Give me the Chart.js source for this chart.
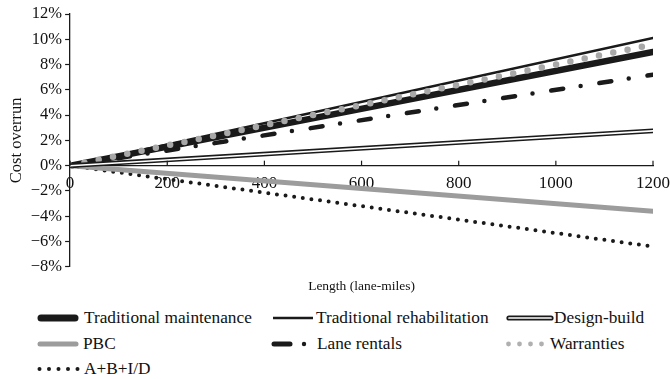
<!DOCTYPE html>
<html>
<head>
<meta charset="utf-8">
<script src="https://cdn.jsdelivr.net/npm/chart.js@4.4.1/dist/chart.umd.min.js"></script>
<style>
  html, body { margin: 0; padding: 0; background: #fff; }
  #wrap { position: relative; width: 670px; height: 379px; overflow: hidden; font-family: "Liberation Serif", "Times New Roman", serif; }
  #c { position: absolute; left: 0; top: 0; }
  .lg { position: absolute; font-size: 17.3px; color: #111; line-height: 20px; white-space: nowrap; }
  .sw { position: absolute; }
</style>
</head>
<body>
<div id="wrap">
  <canvas id="c" width="670" height="300"></canvas>
  <div id="legend"></div>
</div>
<script>
// ---- Data ----
const lengths = [0, 1200];                 // lane-miles
const tradMaintenance = [0, 9.0];          // % cost overrun
const tradRehab = [0, 10.1];
const designBuild = [0, 2.75];
const pbc = [0, -3.6];
const laneRentals = [0, 7.2];
const warranties = [0, 9.6];
const abid = [0, -6.4];
const seriesNames = ["Traditional maintenance", "Traditional rehabilitation", "Design-build",
                     "PBC", "Lane rentals", "Warranties", "A+B+I/D"];
const yMin = -8, yMax = 12, yStep = 2;
const xMin = 0, xMax = 1200, xStep = 200;

const pts = arr => lengths.map((x, i) => ({ x: x, y: arr[i] }));
const BLACK = '#1a1a1a';
const GRAY = '#9c9c9c';

const base = { pointRadius: 0, pointHoverRadius: 0, tension: 0, fill: false, borderCapStyle: 'round', borderJoinStyle: 'round' };

const datasets = [
  Object.assign({}, base, { label: seriesNames[0], data: pts(tradMaintenance), borderColor: BLACK, borderWidth: 6.5, order: 5 }),
  Object.assign({}, base, { label: seriesNames[1], data: pts(tradRehab), borderColor: BLACK, borderWidth: 2.5, order: 5 }),
  Object.assign({}, base, { label: seriesNames[2], data: pts(designBuild), borderColor: BLACK, borderWidth: 4.8, order: 2 }),
  Object.assign({}, base, { label: seriesNames[2] + ' (inner)', data: pts(designBuild), borderColor: '#ffffff', borderWidth: 1.6, order: 1 }),
  Object.assign({}, base, { label: seriesNames[3], data: pts(pbc), borderColor: GRAY, borderWidth: 5, order: 5 }),
  Object.assign({}, base, { label: seriesNames[4], data: pts(laneRentals), borderColor: BLACK, borderWidth: 4.5, borderDash: [12, 17.7, 0, 19], order: 5 }),
  Object.assign({}, base, { label: seriesNames[5], data: pts(warranties), borderColor: '#a8a8a8', borderWidth: 6.5, borderDash: [0, 14.6], order: 4 }),
  Object.assign({}, base, { label: seriesNames[6], data: pts(abid), borderColor: BLACK, borderWidth: 4, borderDash: [0, 8.7], order: 5 })
];

const upTicks = {
  id: 'upTicks',
  afterDraw(chart) {
    const xs = chart.scales.x, ys = chart.scales.y;
    const y0 = ys.getPixelForValue(0);
    const ctx = chart.ctx;
    ctx.save();
    ctx.strokeStyle = BLACK;
    ctx.lineWidth = 1.2;
    xs.ticks.forEach(t => {
      const px = xs.getPixelForValue(t.value);
      ctx.beginPath();
      ctx.moveTo(px, y0);
      ctx.lineTo(px, y0 - 5);
      ctx.stroke();
    });
    ctx.restore();
  }
};

const serif = '"Liberation Serif", "Times New Roman", serif';

new Chart(document.getElementById('c'), {
  type: 'line',
  data: { datasets: datasets },
  options: {
    responsive: false,
    animation: false,
    layout: { padding: { top: 14, right: 2, bottom: 5, left: 7 } },
    plugins: { legend: { display: false }, tooltip: { enabled: false } },
    scales: {
      x: {
        type: 'linear', min: xMin, max: xMax,
        position: { y: 0 },
        grid: { display: false },
        border: { display: true, color: BLACK, width: 1.3 },
        ticks: { stepSize: xStep, color: '#111', font: { family: serif, size: 17 }, padding: 0, maxRotation: 0, autoSkip: false,
                 callback: v => String(v) }
      },
      x2: {
        type: 'linear', axis: 'x', min: xMin, max: xMax, position: 'bottom',
        grid: { display: false, drawTicks: false },
        border: { display: false },
        ticks: { display: false },
        title: { display: true, text: 'Length (lane-miles)', color: '#111', font: { family: serif, size: 13.5 }, padding: { top: 12, bottom: 0 } }
      },
      y: {
        type: 'linear', min: yMin, max: yMax,
        grid: { display: true, drawOnChartArea: false, drawTicks: true, tickLength: 5, color: BLACK, tickWidth: 1.2 },
        border: { display: true, color: BLACK, width: 1.3 },
        ticks: { stepSize: yStep, color: '#111', font: { family: serif, size: 16.5 }, padding: 3,
                 callback: v => (v < 0 ? '\u2212' + Math.abs(v) : v) + '%' },
        title: { display: true, text: 'Cost overrun', color: '#111', font: { family: serif, size: 16.5 }, padding: { top: 0, bottom: 1 } }
      }
    }
  },
  plugins: [upTicks]
});

// ---- HTML legend ----
const legendItems = [
  { name: seriesNames[0], sx: 37, tx: 84, row: 0, sw: '<line x1="4" y1="6" x2="38" y2="6" stroke="#1a1a1a" stroke-width="7" stroke-linecap="round"/>' },
  { name: seriesNames[1], sx: 271, tx: 316, row: 0, sw: '<line x1="2" y1="6" x2="42" y2="6" stroke="#1a1a1a" stroke-width="2.5"/>' },
  { name: seriesNames[2], sx: 505, tx: 554, row: 0, sw: '<line x1="4" y1="6" x2="46" y2="6" stroke="#1a1a1a" stroke-width="5.2" stroke-linecap="round"/><line x1="4" y1="6" x2="46" y2="6" stroke="#fff" stroke-width="1.7" stroke-linecap="round"/>' },
  { name: seriesNames[3], sx: 37, tx: 83, row: 1, sw: '<line x1="3" y1="6" x2="39" y2="6" stroke="#9c9c9c" stroke-width="5" stroke-linecap="round"/>' },
  { name: seriesNames[4], sx: 271, tx: 317, row: 1, sw: '<line x1="3" y1="6" x2="19" y2="6" stroke="#1a1a1a" stroke-width="5" stroke-linecap="round"/><circle cx="33" cy="6" r="2.2" fill="#1a1a1a"/>' },
  { name: seriesNames[5], sx: 505, tx: 550, row: 1, sw: '<circle cx="3.5" cy="6" r="2.4" fill="#b0b0b0"/><circle cx="14.5" cy="6" r="2.4" fill="#b0b0b0"/><circle cx="25.5" cy="6" r="2.4" fill="#b0b0b0"/><circle cx="36.5" cy="6" r="2.4" fill="#b0b0b0"/>' },
  { name: seriesNames[6], sx: 37, tx: 84, row: 2, sw: '<circle cx="2.5" cy="6" r="2" fill="#1a1a1a"/><circle cx="12" cy="6" r="2" fill="#1a1a1a"/><circle cx="21.5" cy="6" r="2" fill="#1a1a1a"/><circle cx="31" cy="6" r="2" fill="#1a1a1a"/><circle cx="40.5" cy="6" r="2" fill="#1a1a1a"/>' }
];
const rowY = [318, 344, 369];
const lg = document.getElementById('legend');
legendItems.forEach(it => {
  const cy = rowY[it.row];
  const s = document.createElementNS('http://www.w3.org/2000/svg', 'svg');
  s.setAttribute('width', '56'); s.setAttribute('height', '12');
  s.setAttribute('class', 'sw');
  s.style.left = it.sx + 'px'; s.style.top = (cy - 6) + 'px';
  s.innerHTML = it.sw;
  lg.appendChild(s);
  const t = document.createElement('div');
  t.className = 'lg';
  t.textContent = it.name;
  t.style.left = it.tx + 'px'; t.style.top = (cy - 10) + 'px';
  lg.appendChild(t);
});
</script>
</body>
</html>
